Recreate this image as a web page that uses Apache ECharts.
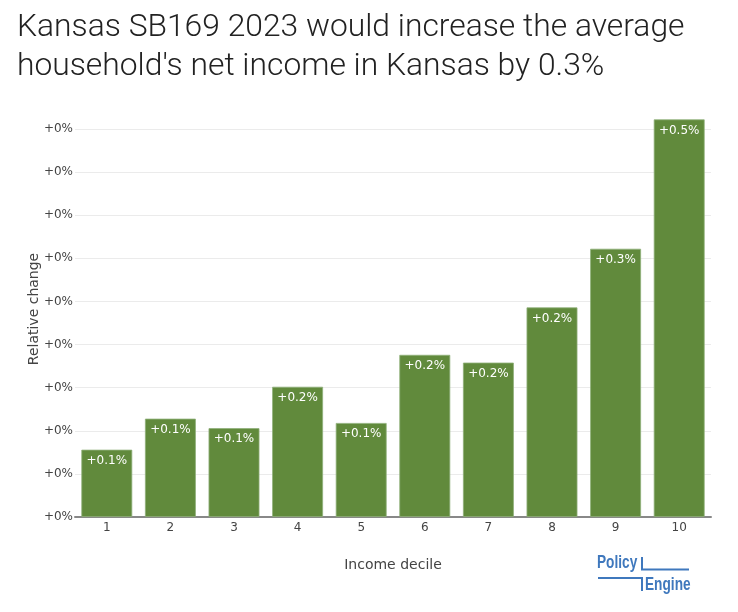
<!DOCTYPE html>
<html>
<head>
<meta charset="utf-8">
<script src="https://cdn.jsdelivr.net/npm/echarts@6/dist/echarts.min.js"></script>
<style>
  html, body { margin: 0; padding: 0; background: #fff; }
  #chart { width: 738px; height: 612px; }
</style>
</head>
<body>
<div id="chart"></div>
<script>
var deciles = ['1', '2', '3', '4', '5', '6', '7', '8', '9', '10'];
// relative change in net income, as a fraction
var relChange = [0.00078, 0.00114, 0.00103, 0.00151, 0.00109, 0.00188, 0.00179, 0.00243, 0.00311, 0.00461];

function pct(v, digits) {
  return (v >= 0 ? '+' : '') + (v * 100).toFixed(digits) + '%';
}

var myChart = echarts.init(document.getElementById('chart'));
var blue = '#3f78bd';
var logoFont = 'bold 19px "Liberation Sans", Arial, sans-serif';

var option = {
  animation: false,
  title: {
    text: "Kansas SB169 2023 would increase the average\nhousehold's net income in Kansas by 0.3%",
    left: 12,
    top: 4,
    textStyle: {
      fontFamily: 'Roboto',
      fontWeight: 300,
      fontSize: 31.8,
      lineHeight: 39,
      color: '#222'
    }
  },
  grid: { left: 75, right: 27, top: 103, bottom: 95 },
  xAxis: {
    type: 'category',
    data: deciles,
    name: 'Income decile',
    nameLocation: 'middle',
    nameGap: 41,
    nameTextStyle: { fontFamily: 'DejaVu Sans', fontSize: 14, color: '#444' },
    axisLine: { lineStyle: { color: '#888', width: 2 } },
    axisTick: { show: false },
    axisLabel: { fontFamily: 'DejaVu Sans', fontSize: 12, color: '#444', margin: 5 }
  },
  yAxis: {
    type: 'value',
    min: 0,
    max: 0.0048,
    interval: 0.0005,
    axisLine: { show: false },
    axisTick: { show: false },
    axisLabel: {
      fontFamily: 'DejaVu Sans', fontSize: 12, color: '#444', margin: 2,
      showMaxLabel: false,
      formatter: function (v) { return pct(v, 0); }
    },
    splitLine: { showMaxLine: false, lineStyle: { color: '#ebebeb' } }
  },
  series: [{
    type: 'bar',
    data: relChange,
    barCategoryGap: '20%',
    itemStyle: { color: '#618a3c', borderColor: '#8fb07a', borderWidth: 0.8 },
    label: {
      show: true,
      position: 'insideTop',
      distance: 5,
      fontFamily: 'DejaVu Sans',
      fontSize: 12,
      color: '#fff',
      formatter: function (p) { return pct(p.value, 1); }
    }
  }],
  graphic: [
    // y axis title
    { type: 'text', x: 34, y: 309, rotation: Math.PI / 2,
      style: { text: 'Relative change', fill: '#444', font: '14px "DejaVu Sans"', align: 'center', verticalAlign: 'middle' } },
    // logo
    { type: 'text', x: 597, y: 553, scaleX: 0.72, style: { text: 'Policy', fill: blue, font: logoFont } },
    { type: 'line', shape: { x1: 642, y1: 557, x2: 642, y2: 570 }, style: { stroke: blue, lineWidth: 2 } },
    { type: 'line', shape: { x1: 641, y1: 569.5, x2: 689, y2: 569.5 }, style: { stroke: blue, lineWidth: 2 } },
    { type: 'line', shape: { x1: 598, y1: 578, x2: 643, y2: 578 }, style: { stroke: blue, lineWidth: 2 } },
    { type: 'line', shape: { x1: 642, y1: 577, x2: 642, y2: 591 }, style: { stroke: blue, lineWidth: 2 } },
    { type: 'text', x: 645, y: 575, scaleX: 0.72, style: { text: 'Engine', fill: blue, font: logoFont } }
  ]
};

myChart.setOption(option);
</script>
</body>
</html>
